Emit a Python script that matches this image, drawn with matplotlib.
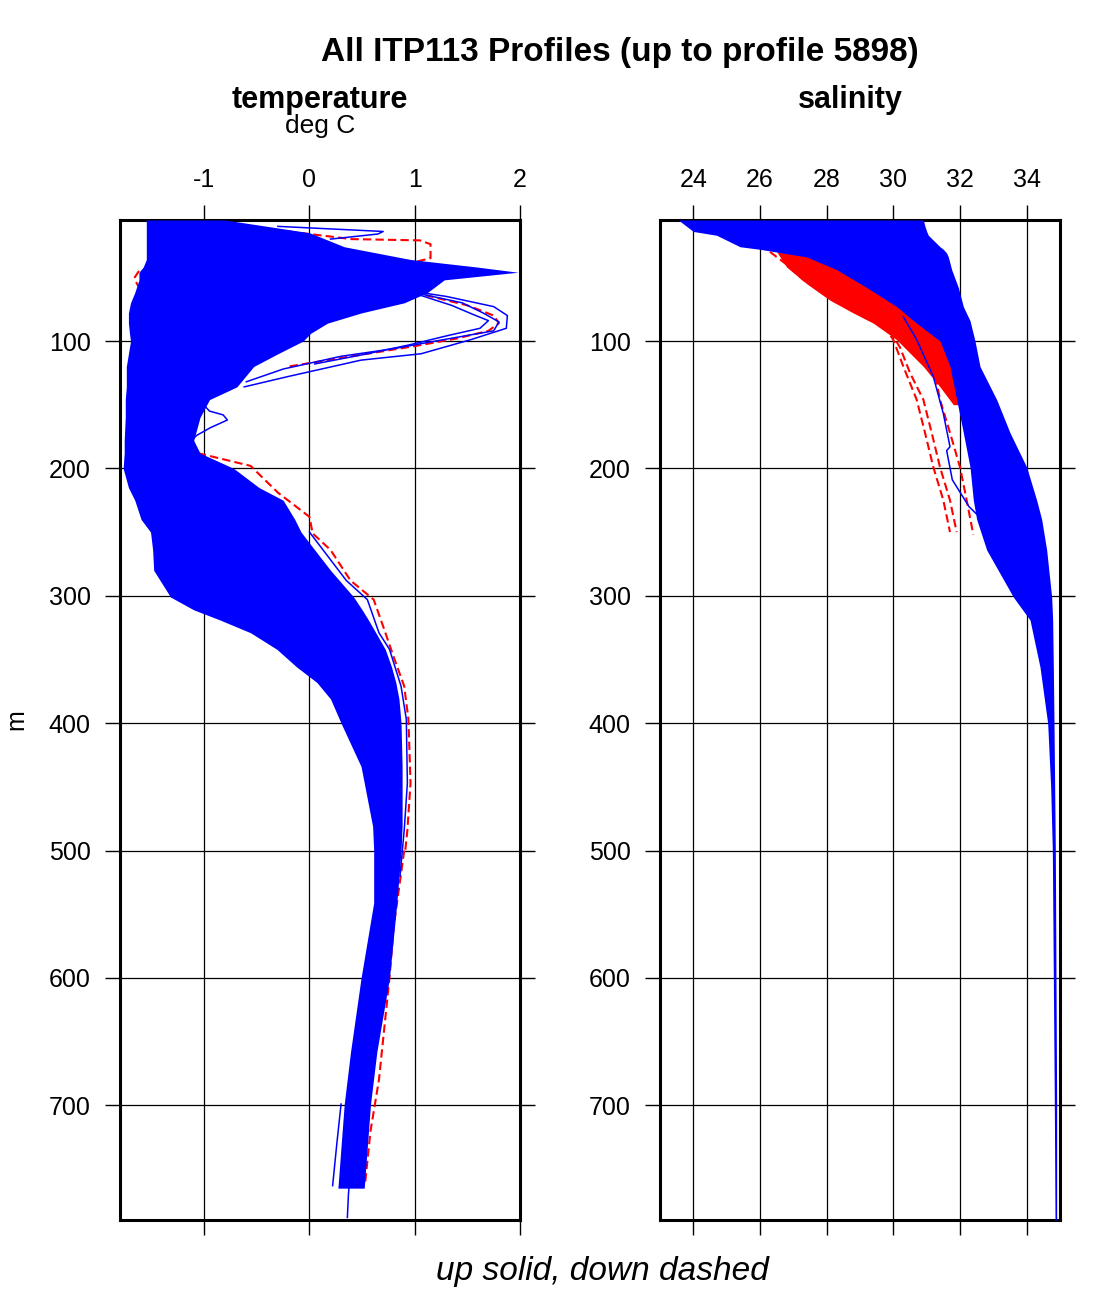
import matplotlib
matplotlib.use("Agg")
import matplotlib.pyplot as plt

# depth ticks shared by both panels
depth_ticks = [100, 200, 300, 400, 500, 600, 700]
temp_ticks = [-1, 0, 1, 2]
sal_ticks = [24, 26, 28, 30, 32, 34]

# temperature: envelope of the dense bundle of up (blue) profiles
t_depth = [5, 15, 26, 36, 42, 46, 52, 62, 70, 78,
           86, 94, 100, 110, 120, 136, 146, 160, 178, 188,
           200, 215, 225, 240, 250, 264, 280, 301, 311, 319,
           329, 342, 356, 368, 381, 400, 434, 481, 500, 541,
           600, 658, 699, 765]
t_left = [-1.55, -1.55, -1.55, -1.55, -1.58, -1.62, -1.62, -1.66, -1.70, -1.72,
          -1.72, -1.71, -1.70, -1.72, -1.74, -1.74, -1.75, -1.75, -1.76, -1.76,
          -1.77, -1.72, -1.66, -1.60, -1.51, -1.49, -1.48, -1.32, -1.10, -0.85,
          -0.56, -0.31, -0.12, 0.07, 0.20, 0.30, 0.49, 0.60, 0.61, 0.61,
          0.49, 0.39, 0.33, 0.27]
t_right = [-0.80, 0.00, 0.33, 0.96, 1.60, 1.98, 1.28, 1.12, 0.90, 0.49,
           0.17, 0.01, -0.06, -0.30, -0.53, -0.69, -0.95, -1.04, -1.10, -1.04,
           -0.72, -0.48, -0.25, -0.14, -0.08, 0.05, 0.20, 0.42, 0.50, 0.56,
           0.63, 0.72, 0.78, 0.82, 0.85, 0.87, 0.88, 0.88, 0.87, 0.83,
           0.76, 0.64, 0.58, 0.52]

# temperature: single profiles standing out of the bundle
warm1_d = [60, 65, 73, 80, 90, 99, 110, 115, 128, 136]
warm1_t = [0.90, 1.30, 1.75, 1.88, 1.87, 1.53, 1.06, 0.49, -0.21, -0.62]
warm2_d = [62, 70, 78, 85, 92, 100, 106, 112, 122, 132]
warm2_t = [1.00, 1.45, 1.65, 1.80, 1.75, 1.20, 0.80, 0.30, -0.25, -0.60]
warm3_d = [64, 72, 79, 84, 90, 96, 103, 110, 118]
warm3_t = [1.05, 1.35, 1.55, 1.70, 1.62, 1.30, 0.95, 0.55, 0.05]
streak_d = [10, 14, 16, 20]
streak_t = [-0.30, 0.70, 0.65, 0.20]
loop_d = [146, 155, 158, 162, 168, 174, 180]
loop_t = [-1.05, -0.95, -0.82, -0.78, -0.94, -1.07, -1.15]
edge_up_d = [250, 288, 303, 329, 342, 371, 397, 447, 484, 520]
edge_up_t = [0.00, 0.35, 0.55, 0.66, 0.76, 0.87, 0.92, 0.93, 0.90, 0.86]
deep1_d = [740, 760, 770, 788]
deep1_t = [0.40, 0.38, 0.37, 0.36]
deep2_d = [699, 730, 763]
deep2_t = [0.30, 0.26, 0.22]

# temperature: down (red dashed) profiles
down_warm_d = [64, 72, 80, 86, 92, 98, 104, 112, 120]
down_warm_t = [1.10, 1.50, 1.75, 1.80, 1.70, 1.40, 1.00, 0.40, -0.20]
down_top_d = [14, 20, 21, 24, 35, 38, 44]
down_top_t = [-0.20, 0.40, 1.05, 1.15, 1.15, 1.00, 1.30]
down_edge_d = [188, 198, 219, 238, 251, 264, 288, 303, 324, 348, 371, 397, 447, 484, 500]
down_edge_t = [-1.06, -0.56, -0.30, 0.00, 0.03, 0.20, 0.39, 0.61, 0.70, 0.80, 0.90, 0.94, 0.96, 0.93, 0.91]
down_deep_d = [500, 560, 600, 640, 680, 720, 760]
down_deep_t = [0.90, 0.80, 0.76, 0.71, 0.66, 0.58, 0.53]
down_left_d = [45, 50, 55, 60]
down_left_t = [-1.62, -1.66, -1.64, -1.60]

# salinity: envelope of the up (blue) bundle
s_depth = [5, 10, 14, 17, 26, 28, 31, 34, 44, 58,
           68, 73, 84, 100, 120, 146, 172, 199, 225, 240,
           264, 301, 319, 356, 400, 450, 500, 600, 700, 790]
s_left = [23.55, 23.8, 24.0, 24.7, 25.4, 26.0, 26.7, 27.4, 28.3, 29.2,
          29.8, 30.1, 30.6, 31.4, 31.7, 31.9, 32.1, 32.3, 32.4, 32.5,
          32.8, 33.6, 34.1, 34.4, 34.63, 34.72, 34.77, 34.80, 34.83, 34.85]
s_right = [30.9, 30.95, 31.0, 31.05, 31.4, 31.5, 31.6, 31.65, 31.75, 31.95,
           32.05, 32.1, 32.3, 32.45, 32.6, 33.1, 33.5, 34.0, 34.3, 34.45,
           34.6, 34.75, 34.78, 34.8, 34.82, 34.84, 34.86, 34.88, 34.9, 34.9]

# salinity: dense bundle of down (red) profiles
sr_depth = [30, 42, 55, 68, 78, 86, 99, 120, 136, 150]
sr_left = [26.5, 26.8, 27.4, 28.1, 28.8, 29.4, 30.1, 30.9, 31.4, 31.8]
sr_right = [27.5, 28.6, 29.5, 30.1, 30.5, 30.8, 31.5, 31.8, 31.9, 32.0]

# salinity: single profiles
s_up_d = [81, 99, 128, 157, 183, 186, 209, 230, 240]
s_up_s = [30.3, 30.7, 31.2, 31.5, 31.7, 31.6, 31.77, 32.27, 32.66]
sd0_d = [30, 40, 52, 64, 75]
sd0_s = [26.3, 26.8, 27.3, 28.0, 28.8]
sd1_d = [88, 99, 120, 146, 172, 199, 225, 250]
sd1_s = [29.7, 30.0, 30.3, 30.7, 30.95, 31.2, 31.5, 31.7]
sd2_d = [92, 105, 125, 146, 172, 199, 225, 250]
sd2_s = [29.9, 30.2, 30.5, 30.9, 31.15, 31.4, 31.7, 31.9]
sd3_d = [100, 120, 146, 172, 199, 225, 252]
sd3_s = [30.9, 31.2, 31.4, 31.7, 32.0, 32.2, 32.4]

BLUE = '#0000ff'
RED = '#ff0000'


def style(ax, xlim, xticks):
    ax.set_xlim(xlim)
    ax.set_ylim(790, 5)
    ax.set_xticks(xticks)
    ax.set_yticks(depth_ticks)
    ax.tick_params(axis='x', top=True, bottom=True, labeltop=True,
                   labelbottom=False, direction='out', length=11, width=1,
                   pad=9, labelsize=18)
    ax.tick_params(axis='y', left=True, right=True, labelleft=True,
                   labelright=False, direction='out', length=11, width=1,
                   pad=10, labelsize=18)
    ax.grid(True, color='black', lw=0.9)
    for sp in ax.spines.values():
        sp.set_linewidth(2.2)


def dashed(ax, d, v):
    ax.plot(v, d, color=RED, lw=1.5, ls=(0, (4, 2)), zorder=2)


def solid(ax, d, v):
    ax.plot(v, d, color=BLUE, lw=1.1, zorder=4)


def main():
    plt.rcParams['font.family'] = ['Liberation Sans', 'DejaVu Sans']
    plt.rcParams['axes.unicode_minus'] = False

    fig = plt.figure(figsize=(11, 13), dpi=100)
    ax_t = fig.add_axes([120 / 1100, 80 / 1300, 400 / 1100, 1000 / 1300])
    ax_s = fig.add_axes([660 / 1100, 80 / 1300, 400 / 1100, 1000 / 1300])

    # temperature panel
    for d, v in [(down_warm_d, down_warm_t), (down_top_d, down_top_t),
                 (down_edge_d, down_edge_t), (down_deep_d, down_deep_t),
                 (down_left_d, down_left_t)]:
        dashed(ax_t, d, v)
    ax_t.fill_betweenx(t_depth, t_left, t_right, color=BLUE, lw=0, zorder=3)
    for d, v in [(warm1_d, warm1_t), (warm2_d, warm2_t), (warm3_d, warm3_t),
                 (streak_d, streak_t), (loop_d, loop_t),
                 (edge_up_d, edge_up_t), (deep1_d, deep1_t), (deep2_d, deep2_t)]:
        solid(ax_t, d, v)
    style(ax_t, (-1.8, 2.0), temp_ticks)

    # salinity panel
    ax_s.fill_betweenx(sr_depth, sr_left, sr_right, color=RED, lw=0, zorder=2)
    for d, v in [(sd0_d, sd0_s), (sd1_d, sd1_s), (sd2_d, sd2_s), (sd3_d, sd3_s)]:
        dashed(ax_s, d, v)
    ax_s.fill_betweenx(s_depth, s_left, s_right, color=BLUE, lw=0, zorder=3)
    solid(ax_s, s_up_d, s_up_s)
    style(ax_s, (23, 35), sal_ticks)

    fig.text(620 / 1100, 1 - 61 / 1300, 'All ITP113 Profiles (up to profile 5898)',
             ha='center', va='baseline', fontsize=24, fontweight='bold')
    fig.text(320 / 1100, 1 - 108 / 1300, 'temperature', ha='center',
             va='baseline', fontsize=22, fontweight='bold')
    fig.text(320 / 1100, 1 - 133 / 1300, 'deg C', ha='center',
             va='baseline', fontsize=19)
    fig.text(850 / 1100, 1 - 108 / 1300, 'salinity', ha='center',
             va='baseline', fontsize=22, fontweight='bold')
    fig.text(602 / 1100, 1 - 1280 / 1300, 'up solid, down dashed', ha='center',
             va='baseline', fontsize=24, fontstyle='italic')
    fig.text(4 / 1100, 1 - 720 / 1300, 'm', rotation=90, ha='left',
             va='center', fontsize=18)

    fig.savefig('out.png', dpi=100)


if __name__ == '__main__':
    main()
